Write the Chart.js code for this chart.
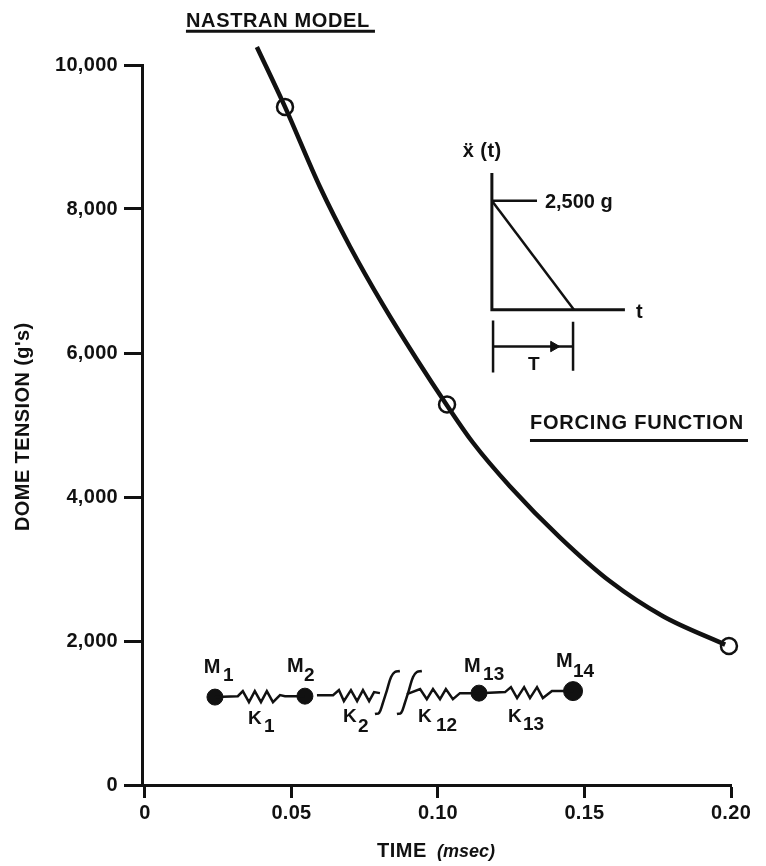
<!DOCTYPE html>
<html>
<head>
<meta charset="utf-8">
<title>Dome tension</title>
<script src="https://cdn.jsdelivr.net/npm/chart.js@4"></script>
<style>
  html, body { margin: 0; padding: 0; background: #fff; }
</style>
</head>
<body>
<canvas id="myChart" width="766" height="866"></canvas>
<script>
// main curve
const curveTime = [0.0382, 0.0478, 0.0597, 0.07, 0.0812, 0.0928, 0.1031, 0.1119, 0.1246, 0.1416, 0.1587, 0.1768, 0.198];
const curveTension = [10250, 9418, 8308, 7476, 6671, 5909, 5271, 4757, 4147, 3440, 2829, 2344, 1950];
const markerTime = [0.0478, 0.1031, 0.1993];
const markerTension = [9418, 5285, 1930];

const xTickLabels = { 0: '0', 0.05: '0.05', 0.1: '0.10', 0.15: '0.15', 0.2: '0.20' };
const yTickLabels = { 0: '0', 2000: '2,000', 4000: '4,000', 6000: '6,000', 8000: '8,000', 10000: '10,000' };

// forcing function inset, in the same units as the main axes
const insetAxisTime = [0.1184, 0.1184, 0.1638];
const insetAxisTension = [8500, 6600, 6600];
const insetRampTime = [0.1184, 0.1464];
const insetRampTension = [8115, 6600];
const insetLeaderTime = [0.1184, 0.1338];
const insetLeaderTension = [8115, 8115];
const spanLeftTime = [0.1188, 0.1188];
const spanLeftTension = [6450, 5730];
const spanRightTime = [0.1461, 0.1461];
const spanRightTension = [6435, 5755];
const spanArrowTime = [0.1188, 0.1461];
const spanArrowTension = [6090, 6090];
const arrowHeadTime = [0.1395];
const arrowHeadTension = [6090];

// underlines of the two headings
const headOneTime = [0.014, 0.0785];
const headOneTension = [10470, 10470];
const headTwoTime = [0.1314, 0.2058];
const headTwoTension = [4785, 4785];

// spring-mass model drawn on the plot
const massTime = [0.0239, 0.0546, 0.114, 0.1461];
const massTension = [1221, 1234, 1276, 1304];
const springOneTime = [0.0239, 0.0317, 0.0334, 0.0355, 0.0375, 0.0396, 0.0416, 0.0437, 0.0461, 0.0478, 0.0546];
const springOneTension = [1221, 1234, 1304, 1151, 1304, 1151, 1304, 1151, 1248, 1234, 1234];
const springTwoTime = [0.0587, 0.0642, 0.0662, 0.0679, 0.0703, 0.0724, 0.0744, 0.0765, 0.0782, 0.0802];
const springTwoTension = [1248, 1248, 1318, 1165, 1318, 1165, 1318, 1165, 1290, 1276];
const springThreeTime = [0.0894, 0.0939, 0.0962, 0.0983, 0.1007, 0.1027, 0.1051, 0.1075, 0.114];
const springThreeTension = [1262, 1332, 1193, 1332, 1193, 1332, 1193, 1276, 1276];
const springFourTime = [0.114, 0.1229, 0.1249, 0.127, 0.1294, 0.1314, 0.1338, 0.1358, 0.1389, 0.1461];
const springFourTension = [1276, 1290, 1359, 1207, 1359, 1207, 1359, 1207, 1304, 1304];
const breakOneTime = [0.0785, 0.0799, 0.0812, 0.0826, 0.084, 0.0853, 0.087];
const breakOneTension = [986, 1000, 1139, 1319, 1500, 1570, 1583];
const breakTwoTime = [0.086, 0.0874, 0.0887, 0.0901, 0.0915, 0.0928, 0.0945];
const breakTwoTension = [986, 1000, 1139, 1319, 1500, 1570, 1583];

// text put on the plot: text, time, tension, font, letter spacing, turned
const plotLabels = [
  ['NASTRAN MODEL', 0.014, 10527, 'bold 20px', 0.65],
  ['FORCING FUNCTION', 0.1314, 4938, 'bold 20px', 0.8],
  ['ẍ (t)', 0.1085, 8724, 'bold 20px', 0.4],
  ['2,500 g', 0.1365, 8017, 'bold 20px', 0],
  ['t', 0.1676, 6491, 'bold 20px', 0],
  ['T', 0.1307, 5770, 'bold 19px', 0],
  ['M', 0.0201, 1553, 'bold 20px', 0], ['1', 0.0266, 1442, 'bold 19px', 0],
  ['M', 0.0485, 1567, 'bold 20px', 0], ['2', 0.0543, 1442, 'bold 19px', 0],
  ['M', 0.1089, 1567, 'bold 20px', 0], ['13', 0.1154, 1456, 'bold 19px', 0],
  ['M', 0.1403, 1637, 'bold 20px', 0], ['14', 0.1461, 1498, 'bold 19px', 0],
  ['K', 0.0352, 846, 'bold 19px', 0], ['1', 0.0406, 735, 'bold 19px', 0],
  ['K', 0.0676, 874, 'bold 19px', 0], ['2', 0.0727, 735, 'bold 19px', 0],
  ['K', 0.0932, 874, 'bold 19px', 0], ['12', 0.0993, 749, 'bold 19px', 0],
  ['K', 0.1239, 874, 'bold 19px', 0], ['13', 0.129, 763, 'bold 19px', 0],
  ['TIME', 0.0792, -1000, 'bold 20px', 0.5],
  ['(msec)', 0.0997, -1000, 'italic bold 18px', 0],
  ["DOME TENSION (g's)", -0.0396, 3528, 'bold 20px', 0.4, true]
];

const ink = '#111';
const fontName = '"Liberation Sans", Arial, sans-serif';

function pts(xs, ys) {
  return xs.map((x, i) => ({ x: x, y: ys[i] }));
}

function inkLine(xs, ys, width, tension) {
  return {
    data: pts(xs, ys),
    showLine: true,
    borderColor: ink,
    borderWidth: width,
    pointRadius: 0,
    tension: tension || 0,
    clip: false
  };
}

const textPlugin = {
  id: 'plotText',
  beforeDraw(chart) {
    // spreads the tick labels
    chart.ctx.letterSpacing = '0.3px';
  },
  afterDatasetsDraw(chart) {
    const c = chart.ctx;
    c.save();
    c.fillStyle = ink;
    c.textAlign = 'left';
    c.textBaseline = 'alphabetic';
    plotLabels.forEach(l => {
      c.save();
      c.font = l[3] + ' ' + fontName;
      c.letterSpacing = l[4] + 'px';
      c.translate(chart.scales.x.getPixelForValue(l[1]), chart.scales.y.getPixelForValue(l[2]));
      if (l[5]) c.rotate(-Math.PI / 2);
      c.fillText(l[0], 0, 0);
      c.restore();
    });
    c.restore();
  }
};

const ctx1 = document.getElementById('myChart');

new Chart(ctx1, {
  type: 'scatter',
  data: {
    datasets: [
      Object.assign(inkLine(curveTime, curveTension, 4.5, 0.4), { cubicInterpolationMode: 'monotone' }),
      inkLine(insetAxisTime, insetAxisTension, 3),
      inkLine(insetRampTime, insetRampTension, 2.5),
      inkLine(insetLeaderTime, insetLeaderTension, 2.5),
      inkLine(spanLeftTime, spanLeftTension, 2.5),
      inkLine(spanRightTime, spanRightTension, 2.5),
      inkLine(spanArrowTime, spanArrowTension, 2.5),
      inkLine(headOneTime, headOneTension, 3),
      inkLine(headTwoTime, headTwoTension, 3),
      inkLine(springOneTime, springOneTension, 2.5),
      inkLine(springTwoTime, springTwoTension, 2.5),
      inkLine(springThreeTime, springThreeTension, 2.5),
      inkLine(springFourTime, springFourTension, 2.5),
      inkLine(breakOneTime, breakOneTension, 2.5, 0.4),
      inkLine(breakTwoTime, breakTwoTension, 2.5, 0.4),
      {
        data: pts(arrowHeadTime, arrowHeadTension),
        pointStyle: 'triangle',
        rotation: 90,
        radius: 6,
        backgroundColor: ink,
        borderColor: ink,
        clip: false
      },
      {
        data: pts(massTime, massTension),
        radius: [8, 8, 8, 9.5],
        backgroundColor: ink,
        borderColor: ink,
        clip: false
      },
      {
        data: pts(markerTime, markerTension),
        radius: 8,
        backgroundColor: 'transparent',
        borderColor: ink,
        borderWidth: 2.5,
        clip: false
      }
    ]
  },
  plugins: [textPlugin],
  options: {
    responsive: false,
    animation: false,
    layout: { padding: { left: 0, right: 35, top: 65, bottom: 0 } },
    plugins: { legend: { display: false }, tooltip: { enabled: false } },
    scales: {
      x: {
        type: 'linear',
        min: -0.001,
        max: 0.2,
        afterFit(scale) { scale.height = 81; },
        border: { color: ink, width: 3 },
        grid: { drawOnChartArea: false, color: ink, tickColor: ink, tickLength: 13, tickWidth: 3 },
        ticks: {
          stepSize: 0.05,
          includeBounds: false,
          color: ink,
          padding: 3,
          maxRotation: 0,
          font: { family: fontName, size: 20, weight: 'bold' },
          callback: v => xTickLabels[v]
        }
      },
      y: {
        type: 'linear',
        min: 0,
        max: 10000,
        afterFit(scale) { scale.width = 142; },
        border: { color: ink, width: 3 },
        grid: { drawOnChartArea: false, color: ink, tickColor: ink, tickLength: 18, tickWidth: 3 },
        ticks: {
          stepSize: 2000,
          color: ink,
          padding: 6,
          font: { family: fontName, size: 20, weight: 'bold' },
          callback: v => yTickLabels[v]
        }
      }
    }
  }
});
</script>
</body>
</html>
